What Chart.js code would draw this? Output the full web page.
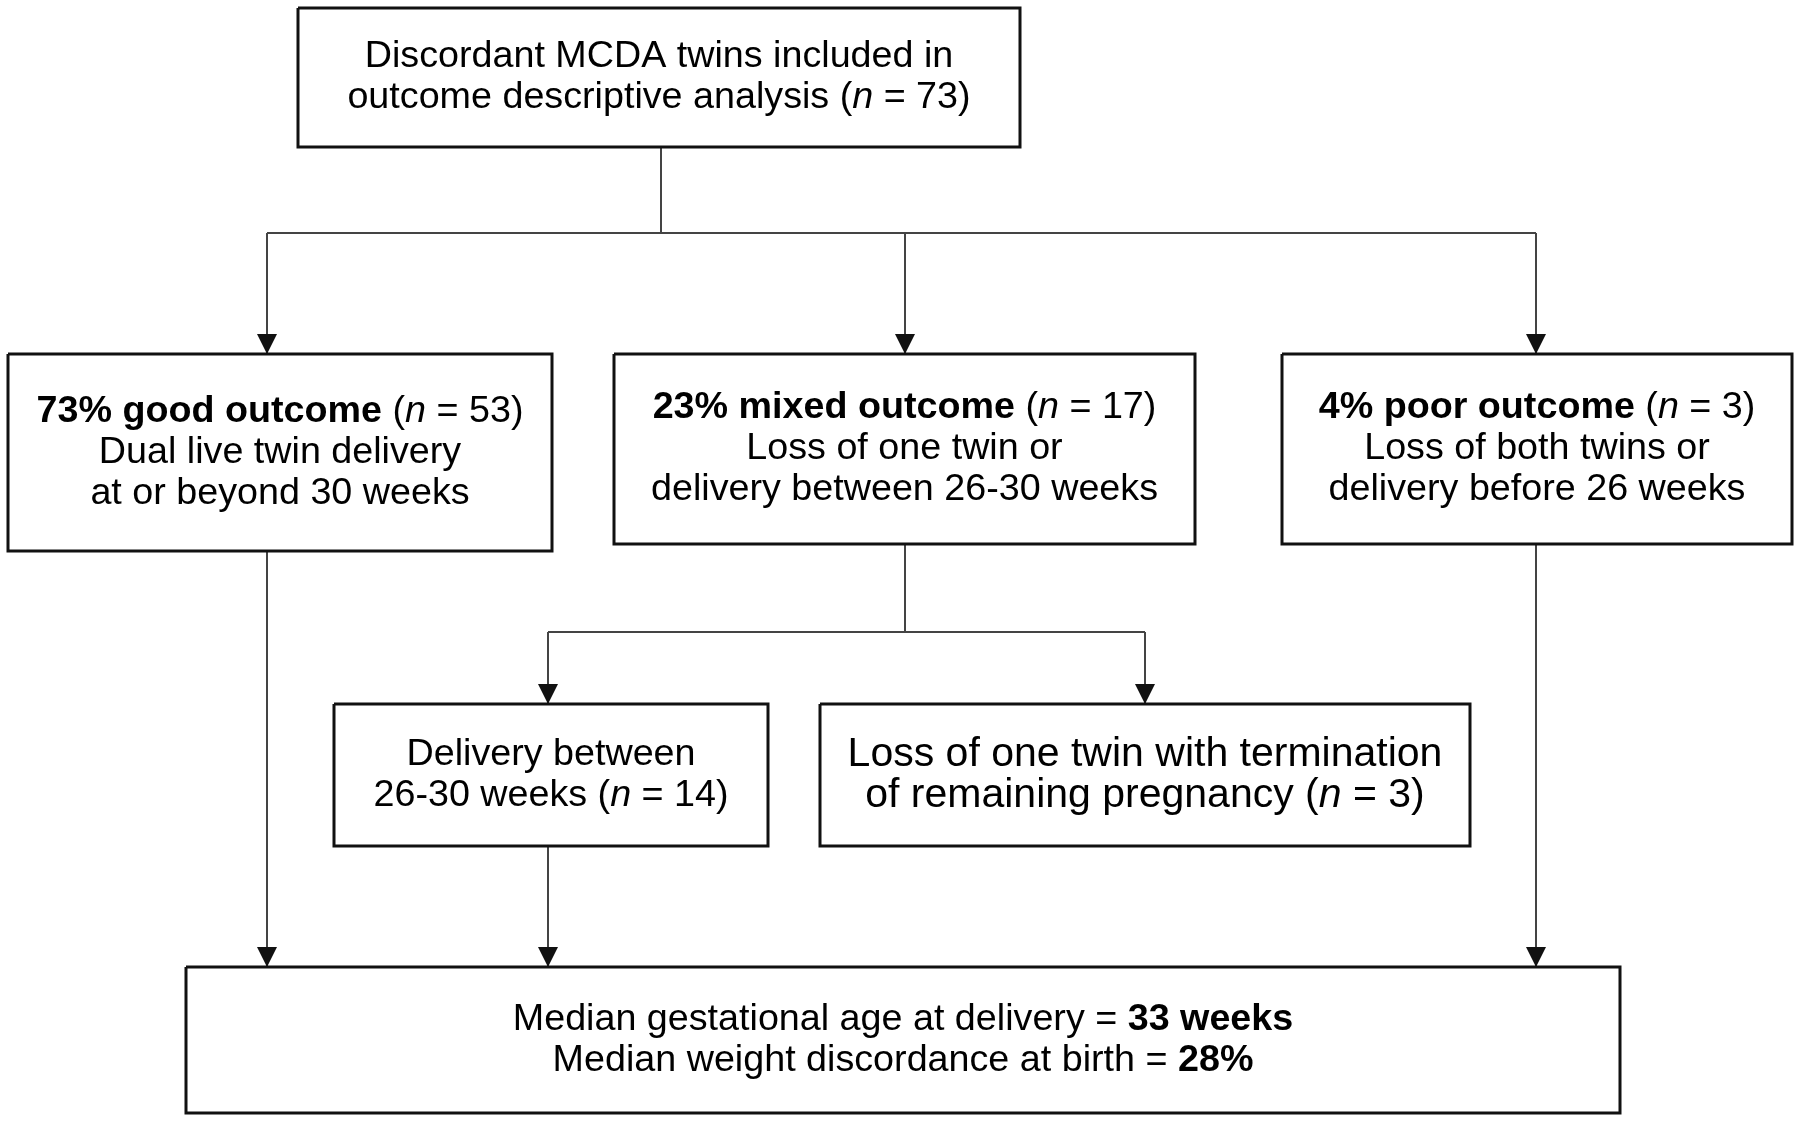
<!DOCTYPE html>
<html>
<head>
<meta charset="utf-8">
<script src="https://cdn.jsdelivr.net/npm/chart.js@4/dist/chart.umd.min.js"></script>
<style>
  html, body { margin: 0; padding: 0; background: #fff; }
  canvas { display: block; }
</style>
</head>
<body>
<canvas id="flowChart" width="1800" height="1122"></canvas>
<script>
// Flowchart of MCDA twin outcomes

// Box extents (chart units, y grows downward)
const boxLeft   = [298,   8, 614, 1282, 334, 820,  186];
const boxRight  = [1020, 552, 1195, 1792, 768, 1470, 1620];
const boxTop    = [8,   354, 354,  354, 704, 704,  967];
const boxBottom = [147, 551, 544,  544, 846, 846, 1113];

// Box texts: each line is a list of [text, style] ('' normal, 'b' bold, 'i' italic)
const boxLines = [
    [
        [['Discordant MCDA twins included in', '']],
        [['outcome descriptive analysis (', ''], ['n', 'i'], [' = 73)', '']]
    ],
    [
        [['73% good outcome', 'b'], [' (', ''], ['n', 'i'], [' = 53)', '']],
        [['Dual live twin delivery', '']],
        [['at or beyond 30 weeks', '']]
    ],
    [
        [['23% mixed outcome', 'b'], [' (', ''], ['n', 'i'], [' = 17)', '']],
        [['Loss of one twin or', '']],
        [['delivery between 26-30 weeks', '']]
    ],
    [
        [['4% poor outcome', 'b'], [' (', ''], ['n', 'i'], [' = 3)', '']],
        [['Loss of both twins or', '']],
        [['delivery before 26 weeks', '']]
    ],
    [
        [['Delivery between', '']],
        [['26-30 weeks (', ''], ['n', 'i'], [' = 14)', '']]
    ],
    [
        [['Loss of one twin with termination', '']],
        [['of remaining pregnancy (', ''], ['n', 'i'], [' = 3)', '']]
    ],
    [
        [['Median gestational age at delivery = ', ''], ['33 weeks', 'b']],
        [['Median weight discordance at birth = ', ''], ['28%', 'b']]
    ]
];

// Connector paths; arrow flag puts an arrowhead at the last point
const connectorPaths = [
    [[661, 147], [661, 233]],
    [[267, 233], [1536, 233]],
    [[267, 233], [267, 354]],
    [[905, 233], [905, 354]],
    [[1536, 233], [1536, 354]],
    [[905, 544], [905, 632]],
    [[548, 632], [1145, 632]],
    [[548, 632], [548, 704]],
    [[1145, 632], [1145, 704]],
    [[267, 551], [267, 967]],
    [[548, 846], [548, 967]],
    [[1536, 544], [1536, 967]]
];
const connectorArrow = [false, false, true, true, true, false, false, true, true, true, true, true];

const FONT_SIZE = 37.7;
const BIG_FONT_SIZE = 41;   // the termination box is set a bit larger
const LINE_HEIGHT = 41;
const FONT_FAMILY = '"Liberation Sans", Arial, sans-serif';

function fontFor(style, size) {
    if (style === 'b') return 'bold ' + size + 'px ' + FONT_FAMILY;
    if (style === 'i') return 'italic ' + size + 'px ' + FONT_FAMILY;
    return size + 'px ' + FONT_FAMILY;
}

// Build datasets
const datasets = [];
boxLeft.forEach((l, i) => {
    datasets.push({
        kind: 'box',
        data: [
            { x: l, y: boxTop[i] },
            { x: boxRight[i], y: boxTop[i] },
            { x: boxRight[i], y: boxBottom[i] },
            { x: l, y: boxBottom[i] },
            { x: l, y: boxTop[i] }
        ],
        showLine: true,
        borderColor: '#111',
        borderWidth: 3,
        borderJoinStyle: 'miter',
        pointRadius: 0,
        fill: false,
        clip: false
    });
});
connectorPaths.forEach((path, i) => {
    datasets.push({
        kind: 'connector',
        arrow: connectorArrow[i],
        data: path.map(p => ({ x: p[0], y: p[1] })),
        showLine: true,
        borderColor: '#444',
        borderWidth: 2,
        pointRadius: 0,
        fill: false,
        clip: false
    });
});

const flowPlugin = {
    id: 'flowPlugin',
    afterDatasetsDraw(chart) {
        const ctx = chart.ctx;
        const xs = chart.scales.x;
        const ys = chart.scales.y;

        // Arrowheads
        chart.data.datasets.forEach((ds, di) => {
            if (!ds.arrow) return;
            const pts = chart.getDatasetMeta(di).data;
            const a = pts[pts.length - 2];
            const b = pts[pts.length - 1];
            const ang = Math.atan2(b.y - a.y, b.x - a.x);
            const len = 20, half = 10;
            ctx.save();
            ctx.fillStyle = '#111';
            ctx.translate(b.x, b.y);
            ctx.rotate(ang);
            ctx.beginPath();
            ctx.moveTo(0, 0);
            ctx.lineTo(-len, -half);
            ctx.lineTo(-len, half);
            ctx.closePath();
            ctx.fill();
            ctx.restore();
        });

        // Box texts
        ctx.save();
        ctx.fillStyle = '#000';
        ctx.textBaseline = 'middle';
        ctx.textAlign = 'left';
        boxLines.forEach((lines, i) => {
            const size = i === 5 ? BIG_FONT_SIZE : FONT_SIZE;
            const cx = (xs.getPixelForValue(boxLeft[i]) + xs.getPixelForValue(boxRight[i])) / 2;
            const cy = (ys.getPixelForValue(boxTop[i]) + ys.getPixelForValue(boxBottom[i])) / 2;
            const y0 = cy - (lines.length - 1) * LINE_HEIGHT / 2;
            lines.forEach((segs, li) => {
                let w = 0;
                segs.forEach(s => { ctx.font = fontFor(s[1], size); w += ctx.measureText(s[0]).width; });
                let x = cx - w / 2;
                const y = y0 + li * LINE_HEIGHT;
                segs.forEach(s => {
                    ctx.font = fontFor(s[1], size);
                    ctx.fillText(s[0], x, y);
                    x += ctx.measureText(s[0]).width;
                });
            });
        });
        ctx.restore();
    }
};

new Chart(document.getElementById('flowChart'), {
    type: 'scatter',
    data: { datasets: datasets },
    options: {
        responsive: false,
        animation: false,
        events: [],
        layout: { padding: 0 },
        plugins: {
            legend: { display: false },
            tooltip: { enabled: false }
        },
        scales: {
            x: { type: 'linear', min: 0, max: 1800, display: false },
            y: { type: 'linear', min: 0, max: 1122, reverse: true, display: false }
        }
    },
    plugins: [flowPlugin]
});
</script>
</body>
</html>
